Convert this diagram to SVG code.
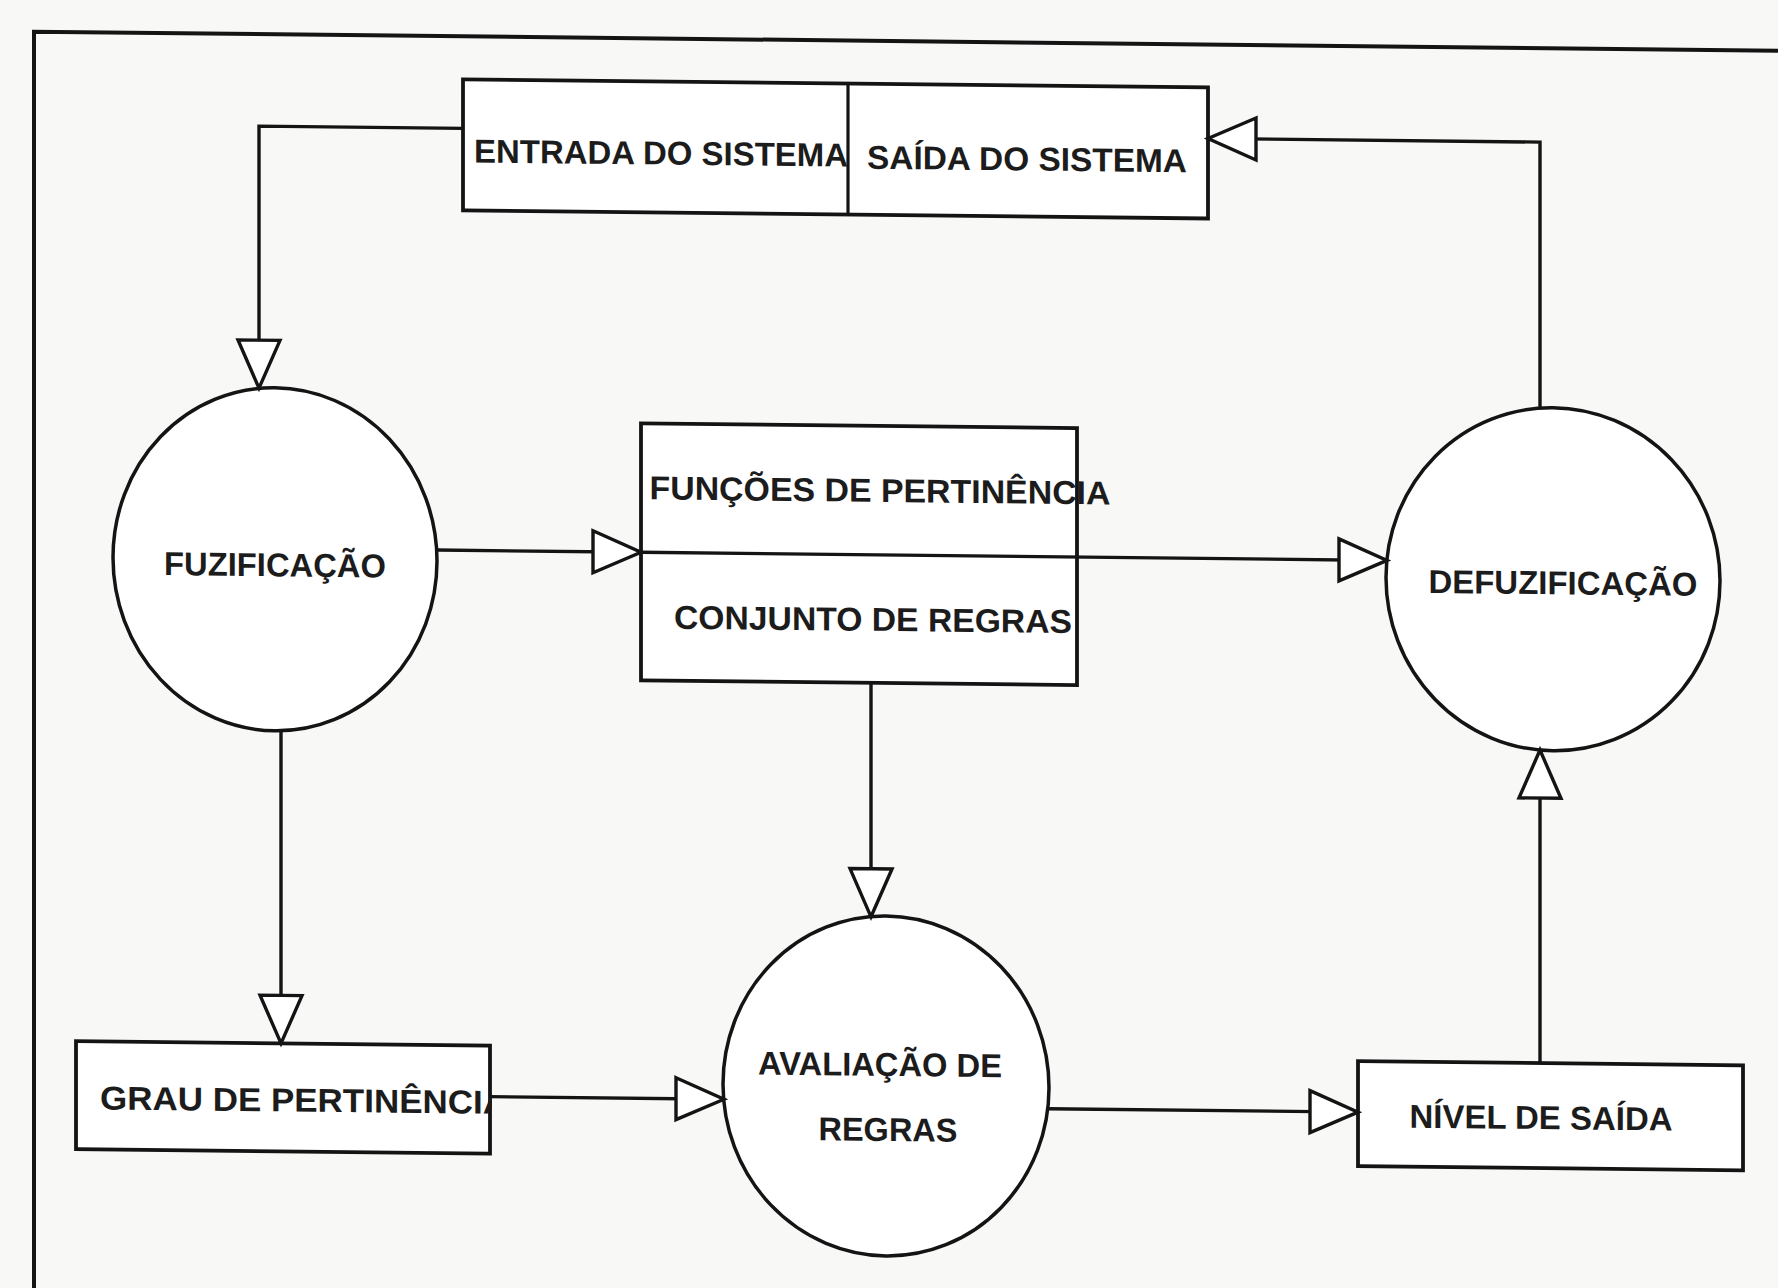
<svg xmlns="http://www.w3.org/2000/svg" width="1778" height="1288" viewBox="0 0 1778 1288">
<style>
.box{fill:#fff;stroke:#141414;stroke-width:3.8}
.node{fill:#fff;stroke:#141414;stroke-width:3.5}
.con{fill:none;stroke:#141414;stroke-width:3.4}
.lbl{font-family:"Liberation Sans",Arial,sans-serif;font-weight:bold;font-size:33px;fill:#1c1c1c;text-anchor:middle}
</style>
<defs>
<marker id="tri" markerUnits="userSpaceOnUse" markerWidth="60" markerHeight="52" viewBox="-5 -5 60 52" refX="48" refY="21" orient="auto" overflow="visible">
<path d="M0,0 L48,21 L0,42 Z" fill="#fff" stroke="#141414" stroke-width="3.4"/>
</marker>
<clipPath id="grauClip"><rect x="76" y="1050" width="416" height="108"/></clipPath>
</defs>
<rect x="0" y="0" width="1778" height="1288" fill="#f8f8f7"/>
<g transform="matrix(1 0.0109 0 1 0 -9.69)">
<path d="M34,1310 V41 H1800" fill="none" stroke="#141414" stroke-width="4"/>

<g id="sistema">
<rect class="box" x="463" y="84" width="745" height="131"/>
<line x1="848" y1="84" x2="848" y2="215" stroke="#141414" stroke-width="3.2"/>
<text class="lbl" x="661" y="167" textLength="374" lengthAdjust="spacingAndGlyphs">ENTRADA DO SISTEMA</text>
<text class="lbl" x="1027" y="169" textLength="320" lengthAdjust="spacingAndGlyphs">SAÍDA DO SISTEMA</text>
</g>

<g id="fuzificacao">
<ellipse class="node" cx="275" cy="566" rx="162" ry="171.5"/>
<text class="lbl" x="275" y="583" textLength="222" lengthAdjust="spacingAndGlyphs">FUZIFICAÇÃO</text>
</g>

<g id="funcoes">
<rect class="box" x="641" y="426" width="436" height="257"/>
<text class="lbl" x="880" y="502" textLength="461" lengthAdjust="spacingAndGlyphs">FUNÇÕES DE PERTINÊNCIA</text>
<text class="lbl" x="873" y="631" textLength="398" lengthAdjust="spacingAndGlyphs">CONJUNTO DE REGRAS</text>
</g>

<g id="defuzificacao">
<ellipse class="node" cx="1553" cy="572" rx="167" ry="171.5"/>
<text class="lbl" x="1563" y="587" textLength="269" lengthAdjust="spacingAndGlyphs">DEFUZIFICAÇÃO</text>
</g>

<g id="grau">
<rect class="box" x="76" y="1050" width="414" height="108"/>
<text class="lbl" x="304" y="1118" textLength="408" lengthAdjust="spacingAndGlyphs" clip-path="url(#grauClip)">GRAU DE PERTINÊNCIA</text>
</g>

<g id="avaliacao">
<ellipse class="node" cx="886" cy="1086" rx="163" ry="170"/>
<text class="lbl" x="880" y="1076" textLength="244" lengthAdjust="spacingAndGlyphs">AVALIAÇÃO DE</text>
<text class="lbl" x="888" y="1141" textLength="139" lengthAdjust="spacingAndGlyphs">REGRAS</text>
</g>

<g id="nivel">
<rect class="box" x="1358" y="1056" width="385" height="105"/>
<text class="lbl" x="1541" y="1122" textLength="263" lengthAdjust="spacingAndGlyphs">NÍVEL DE SAÍDA</text>
</g>

<g id="connectors">
<path class="con" d="M463,133 H259 V395" marker-end="url(#tri)"/>
<path class="con" d="M437,555 H641" marker-end="url(#tri)"/>
<path class="con" d="M641,555 H1387" marker-end="url(#tri)"/>
<path class="con" d="M871,683 V917" marker-end="url(#tri)"/>
<path class="con" d="M281,737 V1050" marker-end="url(#tri)"/>
<path class="con" d="M490,1101 H724" marker-end="url(#tri)"/>
<path class="con" d="M1048,1107 H1358" marker-end="url(#tri)"/>
<path class="con" d="M1540,1056 V743" marker-end="url(#tri)"/>
<path class="con" d="M1540,401 V135 H1208" marker-end="url(#tri)"/>
</g>
</g>
</svg>
